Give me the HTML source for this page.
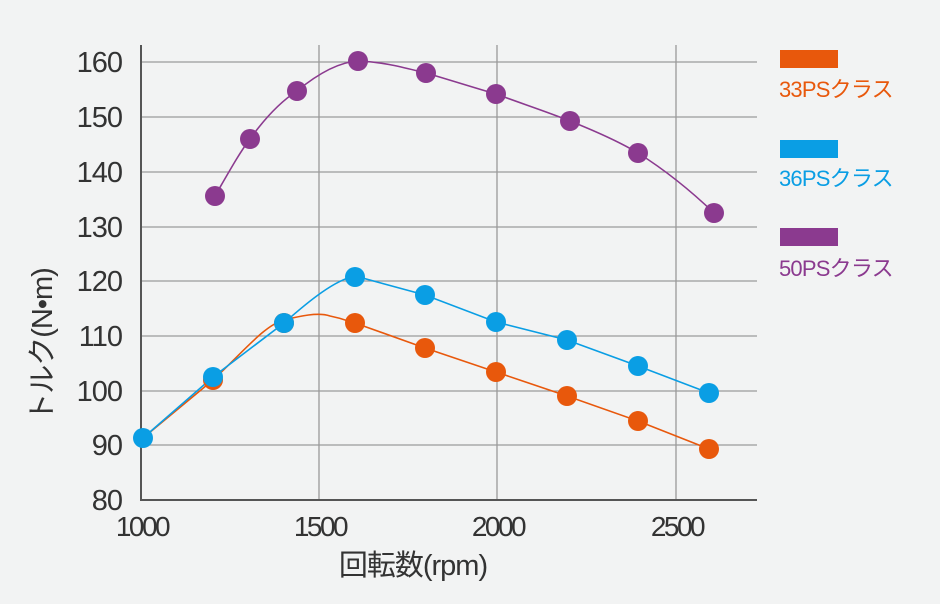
<!DOCTYPE html>
<html><head><meta charset="utf-8"><style>
html,body{margin:0;padding:0;background:#f2f3f3;}
svg{display:block;font-family:"Liberation Sans","Noto Sans CJK JP",sans-serif;}
</style></head><body>
<svg width="940" height="604" viewBox="0 0 940 604">
<rect width="940" height="604" fill="#f2f3f3"/>
<g stroke="#9a9a9a" stroke-width="1.3">
<line x1="141" y1="62" x2="757" y2="62"/><line x1="141" y1="117" x2="757" y2="117"/>
<line x1="141" y1="172" x2="757" y2="172"/><line x1="141" y1="227" x2="757" y2="227"/>
<line x1="141" y1="281" x2="757" y2="281"/><line x1="141" y1="336" x2="757" y2="336"/>
<line x1="141" y1="391" x2="757" y2="391"/><line x1="141" y1="445" x2="757" y2="445"/>
<line x1="319" y1="45" x2="319" y2="500"/><line x1="497" y1="45" x2="497" y2="500"/><line x1="676" y1="45" x2="676" y2="500"/>
</g>
<g stroke="#555" stroke-width="2"><line x1="141" y1="45" x2="141" y2="500"/><line x1="140" y1="500" x2="757" y2="500"/></g>
<g font-size="29" fill="#333" text-anchor="end" letter-spacing="-1">
<text x="122" y="72">160</text><text x="122" y="127">150</text><text x="122" y="182">140</text><text x="122" y="237">130</text>
<text x="122" y="291">120</text><text x="122" y="346">110</text><text x="122" y="401">100</text><text x="122" y="455">90</text><text x="122" y="510">80</text>
</g>
<g font-size="28" fill="#333" text-anchor="middle" letter-spacing="-2.5">
<text x="142" y="536">1000</text><text x="320" y="536">1500</text><text x="498" y="536">2000</text><text x="677" y="536">2500</text>
</g>
<text x="413" y="575" font-size="29" fill="#333" text-anchor="middle" letter-spacing="-1">回転数(rpm)</text>
<text transform="translate(52,345) rotate(-90)" font-size="29" fill="#333" text-anchor="middle" letter-spacing="-1">トルク(N•m)</text>
<g fill="none" stroke-width="1.6">
<path stroke="#8b3a8f" d="M215,196 C230,170 240,152 250,139 C265,118 280,102 297,91 C320,72 340,62 358,61 C385,62 405,68 426,73 C450,80 475,88 496,94 C520,103 545,111 570,121 C595,131 618,141 638,153 C665,170 690,190 714,213"/>
<path stroke="#e8580c" d="M143,438 L213,380 C245,350 265,325 284,320 C300,316 318,312 330,316 C345,319 350,322 355,323 L425,348 L496,372 L567,396 L638,421 L709,449"/>
<path stroke="#0a9ee4" d="M143,438 L213,377 L284,323 C310,300 335,280 355,276 L425,295 L496,322 L567,340 L638,366 L709,393"/>
</g>
<g fill="#8b3a8f"><circle cx="215" cy="196" r="10"/><circle cx="250" cy="139" r="10"/><circle cx="297" cy="91" r="10"/><circle cx="358" cy="61" r="10"/><circle cx="426" cy="73" r="10"/><circle cx="496" cy="94" r="10"/><circle cx="570" cy="121" r="10"/><circle cx="638" cy="153" r="10"/><circle cx="714" cy="213" r="10"/></g>
<g fill="#e8580c"><circle cx="213" cy="380" r="10"/><circle cx="284" cy="323" r="10"/><circle cx="355" cy="323" r="10"/><circle cx="425" cy="348" r="10"/><circle cx="496" cy="372" r="10"/><circle cx="567" cy="396" r="10"/><circle cx="638" cy="421" r="10"/><circle cx="709" cy="449" r="10"/></g>
<g fill="#0a9ee4"><circle cx="143" cy="438" r="10"/><circle cx="213" cy="377" r="10"/><circle cx="284" cy="323" r="10"/><circle cx="355" cy="277" r="10"/><circle cx="425" cy="295" r="10"/><circle cx="496" cy="322" r="10"/><circle cx="567" cy="340" r="10"/><circle cx="638" cy="366" r="10"/><circle cx="709" cy="393" r="10"/></g>
<rect x="780" y="50" width="58" height="18" fill="#e8580c"/>
<rect x="780" y="140" width="58" height="18" fill="#0a9ee4"/>
<rect x="780" y="228" width="58" height="18" fill="#8b3a8f"/>
<g font-size="22" letter-spacing="-0.8">
<text x="779" y="97" fill="#e8580c">33PSクラス</text>
<text x="779" y="186" fill="#0a9ee4">36PSクラス</text>
<text x="779" y="276" fill="#8b3a8f">50PSクラス</text>
</g>
</svg>
</body></html>
